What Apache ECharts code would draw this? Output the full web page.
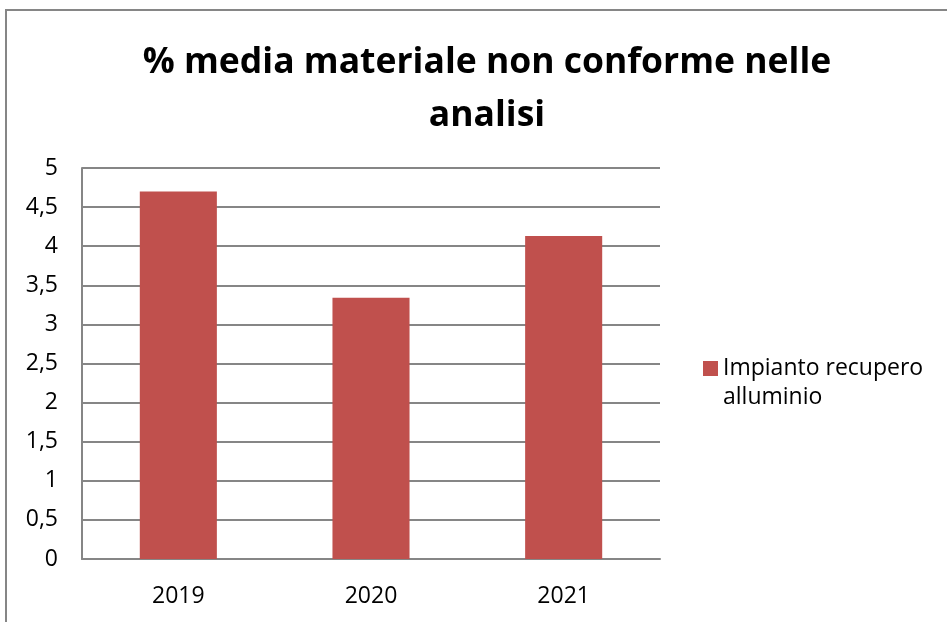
<!DOCTYPE html>
<html>
<head>
<meta charset="utf-8">
<script src="https://cdn.jsdelivr.net/npm/echarts@6/dist/echarts.min.js"></script>
<style>
  html, body { margin: 0; padding: 0; background: #fff; }
  #chart { width: 947px; height: 622px; }
</style>
</head>
<body>
<div id="chart"></div>
<script>
// Chart content
const titleText = '% media materiale non conforme nelle\nanalisi';
const categories = ['2019', '2020', '2021'];
const seriesName = 'Impianto recupero alluminio';
const legendLines = ['Impianto recupero', 'alluminio'];
const values = [4.7, 3.34, 4.13];
const yMin = 0, yMax = 5, yStep = 0.5;

const font = 'Open Sans, Noto Sans, sans-serif';
const chart = echarts.init(document.getElementById('chart'), null, { renderer: 'canvas' });

chart.setOption({
  backgroundColor: '#ffffff',
  animation: false,
  title: {
    text: titleText,
    left: 482,
    top: 31,
    textAlign: 'center',
    textStyle: {
      fontFamily: font,
      fontWeight: 'bold',
      fontSize: 35.5,
      lineHeight: 53,
      color: '#000'
    }
  },
  legend: {
    orient: 'vertical',
    left: 703,
    top: 357,
    padding: 0,
    itemWidth: 15,
    itemHeight: 15,
    itemGap: 5,
    icon: 'rect',
    formatter: () => legendLines[0],
    textStyle: {
      fontFamily: font,
      fontSize: 23,
      color: '#000'
    },
    data: [seriesName]
  },
  grid: {
    left: 82,
    right: 947 - 660,
    top: 168,
    bottom: 622 - 559,
    containLabel: false
  },
  xAxis: {
    type: 'category',
    data: categories,
    axisTick: { show: false },
    axisLine: { lineStyle: { color: '#868686', width: 2 } },
    axisLabel: {
      fontFamily: font,
      fontSize: 23,
      color: '#000',
      margin: 26
    }
  },
  yAxis: {
    type: 'value',
    min: yMin,
    max: yMax,
    interval: yStep,
    axisLine: { show: true, lineStyle: { color: '#868686', width: 2 } },
    axisTick: { show: false },
    splitLine: { lineStyle: { color: '#868686', width: 2 } },
    axisLabel: {
      fontFamily: font,
      fontSize: 23,
      color: '#000',
      margin: 24,
      formatter: v => String(v).replace('.', ',')
    }
  },
  series: [{
    name: seriesName,
    type: 'bar',
    data: values,
    barCategoryGap: '60%',
    itemStyle: { color: '#C0504D' }
  }],
  graphic: [
    {
      // second line of the legend entry
      type: 'text',
      left: 723,
      top: 386,
      style: {
        text: legendLines[1],
        font: '23px ' + font,
        fill: '#000'
      },
      silent: true
    },
    {
      // chart area border (right and bottom sides fall outside the canvas)
      type: 'rect',
      shape: { x: 6, y: 10, width: 960, height: 640 },
      style: { fill: 'none', stroke: '#868686', lineWidth: 2 },
      silent: true,
      z: 100
    }
  ]
});
</script>
</body>
</html>
